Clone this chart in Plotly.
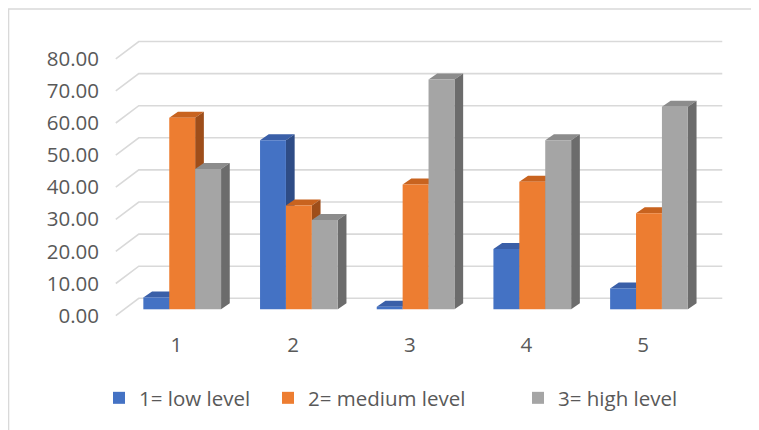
import plotly.graph_objects as go

# ---------------- data ----------------
categories = [1, 2, 3, 4, 5]
category_labels = ["1", "2", "3", "4", "5"]
series_names = ["1= low level", "2= medium level", "3= high level"]
low_level = [3.7, 52.7, 0.8, 18.8, 6.5]
medium_level = [59.7, 32.3, 38.9, 39.7, 29.9]
high_level = [43.7, 27.8, 71.6, 52.7, 63.1]
y_tick_values = [0, 10, 20, 30, 40, 50, 60, 70, 80]

# ---------------- style ----------------
FONT = "Open Sans"
FONT_SIZE = 20.5
TEXT_COLOR = "#595959"
GRID_COLOR = "#D9D9D9"
front_colors = ["#4472C4", "#ED7D31", "#A5A5A5"]
top_colors = ["#3A5FA8", "#C8631F", "#8C8C8C"]
side_colors = ["#2E4C86", "#9E4E1A", "#6C6C6C"]

BARGAP = 0.334
BAR_W = (1 - BARGAP) / 3
BAR_DX, BAR_DY = 0.0746, 1.87      # depth of each column (x units, y units)
WALL_DX, WALL_DY = 0.128, 3.43     # back wall offset from column fronts
FLOOR_DX, FLOOR_DY = 0.197, 5.39   # full floor depth (front edge -> back wall)
LABEL_DX = -0.05

X_RANGE = [0.2956, 5.780]
Y_RANGE = [-6.449, 87.01]

FIG_W, FIG_H = 751, 422            # page body has an 8px margin
PAGE_OFF = 8

series_values = [low_level, medium_level, high_level]

fig = go.Figure()

# back wall gridlines + floor diagonals
gx, gy = [], []
x_back_left = min(categories) - 0.5 + WALL_DX
x_back_right = max(categories) + 0.5 + WALL_DX
for g in y_tick_values:
    gx += [x_back_left - FLOOR_DX, x_back_left, x_back_right, None]
    gy += [g + WALL_DY - FLOOR_DY, g + WALL_DY, g + WALL_DY, None]
fig.add_trace(go.Scatter(x=gx, y=gy, mode="lines", line=dict(color=GRID_COLOR, width=1.6),
                         hoverinfo="skip", showlegend=False))

# top and side faces of the columns (derived from the values)
for i, vals in enumerate(series_values):
    off = (i - 1) * BAR_W
    tx, ty, sx, sy = [], [], [], []
    for c, v in zip(categories, vals):
        x0 = c + off - BAR_W / 2
        x1 = c + off + BAR_W / 2
        tx += [x0, x1, x1 + BAR_DX, x0 + BAR_DX, x0, None]
        ty += [v, v, v + BAR_DY, v + BAR_DY, v, None]
        sx += [x1, x1 + BAR_DX, x1 + BAR_DX, x1, x1, None]
        sy += [0, BAR_DY, v + BAR_DY, v, 0, None]
    fig.add_trace(go.Scatter(x=tx, y=ty, mode="lines", fill="toself", fillcolor=top_colors[i],
                             line=dict(width=0, color=top_colors[i]), hoverinfo="skip", showlegend=False))
    fig.add_trace(go.Scatter(x=sx, y=sy, mode="lines", fill="toself", fillcolor=side_colors[i],
                             line=dict(width=0, color=side_colors[i]), hoverinfo="skip", showlegend=False))

# front faces (real bars) on an overlaid axis so they are drawn on top
legend_ids = ["legend", "legend2", "legend3"]
for i, (name, vals) in enumerate(zip(series_names, series_values)):
    fig.add_trace(go.Bar(x=categories, y=vals, name=name, marker=dict(color=front_colors[i], line=dict(width=0)),
                         xaxis="x2", yaxis="y2", legend=legend_ids[i]))

legend_text_x = [140, 309, 559]
legend_common = dict(orientation="h", xref="container", yref="container", xanchor="left", yanchor="middle",
                     y=1 - (398 - PAGE_OFF) / FIG_H, font=dict(family=FONT, size=FONT_SIZE, color=TEXT_COLOR),
                     bgcolor="rgba(0,0,0,0)", borderwidth=0)

def legend_x(tx):
    return (tx - PAGE_OFF - 41) / FIG_W

fig.update_layout(
    width=FIG_W, height=FIG_H,
    margin=dict(l=92, r=19, t=22, b=100),
    paper_bgcolor="white", plot_bgcolor="white",
    barmode="group", bargap=BARGAP, bargroupgap=0,
    font=dict(family=FONT, size=FONT_SIZE, color=TEXT_COLOR),
    xaxis=dict(range=X_RANGE, showgrid=False, zeroline=False, showline=False,
               tickmode="array", tickvals=[c + LABEL_DX for c in categories], ticktext=category_labels,
               tickfont=dict(family=FONT, size=FONT_SIZE, color=TEXT_COLOR), ticks=""),
    yaxis=dict(range=Y_RANGE, showgrid=False, zeroline=False, showline=False,
               tickmode="array", tickvals=[g + WALL_DY - FLOOR_DY for g in y_tick_values],
               ticktext=[f"{g:.2f}" for g in y_tick_values],
               tickfont=dict(family=FONT, size=FONT_SIZE, color=TEXT_COLOR), ticks=""),
    xaxis2=dict(range=X_RANGE, overlaying="x", visible=False),
    yaxis2=dict(range=Y_RANGE, overlaying="y", visible=False),
    legend=dict(legend_common, x=legend_x(legend_text_x[0])),
    legend2=dict(legend_common, x=legend_x(legend_text_x[1])),
    legend3=dict(legend_common, x=legend_x(legend_text_x[2])),
    shapes=[dict(type="rect", xref="paper", yref="paper",
                 x0=(8.5 - PAGE_OFF - 92) / 640, x1=1.2, y0=-0.4, y1=(322 - (9 - PAGE_OFF)) / 300,
                 line=dict(color=GRID_COLOR, width=1.6), fillcolor="rgba(0,0,0,0)", layer="below")],
)

fig.write_html("out.html")
